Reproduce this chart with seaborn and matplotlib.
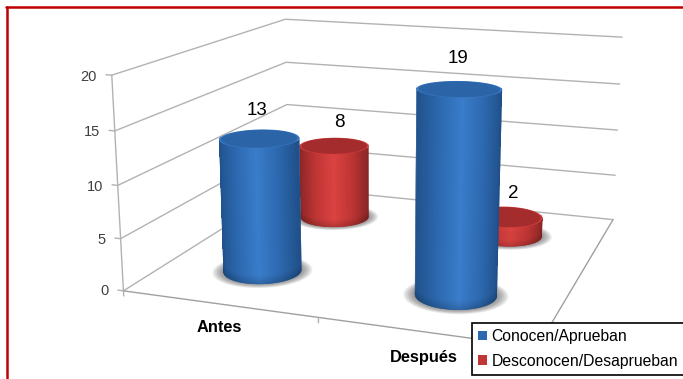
import numpy as np
import pandas as pd
import seaborn as sns
import matplotlib
matplotlib.use("Agg")
import matplotlib.pyplot as plt
from matplotlib.patches import Patch
from matplotlib.lines import Line2D
from mpl_toolkits.mplot3d import proj3d
from mpl_toolkits.mplot3d.art3d import Poly3DCollection

# ---- data -------------------------------------------------------------
categorias = ["Antes", "Después"]
conocen = [13, 19]
desconocen = [8, 2]
series_names = ["Conocen/Aprueban", "Desconocen/Desaprueban"]
z_ticks = [0, 5, 10, 15, 20]

df = pd.DataFrame({"categoria": categorias, series_names[0]: conocen, series_names[1]: desconocen})
long = df.melt(id_vars="categoria", var_name="serie", value_name="valor")

W, H = 683, 379
sns.set_theme(style="white")
plt.rcParams["font.family"] = ["Liberation Sans", "DejaVu Sans"]

# camera (elevation, azimuth, roll, focal length, box aspect) and placement
ELEV, AZIM, ROLL, FOCAL = 14.3049, -70.6767, -0.1358, 0.4045
BOX = (1.9251, 1.8543, 1.0)
SCALE, TX, TY = 3054.0526, 389.8246, 223.7129

fig = plt.figure(figsize=(W / 100, H / 100), dpi=100, facecolor="white")
L = SCALE * 0.185
left = TX - SCALE * 0.095
bottom = TY - SCALE * 0.095
ax = fig.add_axes([left / W, bottom / H, L / W, L / H], projection="3d")
ax.set_xlim(0, 2)
ax.set_ylim(0, 1)
ax.set_zlim(0, 20)
ax.view_init(ELEV, AZIM, ROLL)
ax.set_proj_type("persp", focal_length=FOCAL)
ax.set_box_aspect(BOX)
ax.set_axis_off()
ax.patch.set_alpha(0)
ax.computed_zorder = False
PROJ = ax.get_proj()


def label3d(x, y, z, s, **kw):
    """Text anchored at a 3D data point, projected through the axes' own camera."""
    x2, y2, _ = proj3d.proj_transform(x, y, z, PROJ)
    return ax.text2D(x2, y2, s, transform=ax.transData, clip_on=False, **kw)


# ---- walls, grid and axes ---------------------------------------------
GRID = "#b2b2b2"
for z in z_ticks:
    ax.plot([0, 0, 2], [0, 1, 1], [z, z, z], color=GRID, lw=1.0, zorder=1)
    ax.plot([-0.03, 0], [0, 0], [z, z], color=GRID, lw=1.0, zorder=1)
    label3d(-0.08, 0, z - 0.25, str(z), ha="right", va="center", fontsize=10.5, color="#404040", zorder=20)
ax.plot([0, 0], [0, 0], [0, 20], color=GRID, lw=1.0, zorder=1)
ax.plot([0, 2, 2], [0, 0, 1], [0, 0, 0], color="#a0a0a0", lw=1.0, zorder=1)
for xt in [0, 1, 2]:
    ax.plot([xt, xt], [0, 0], [0, -0.5], color=GRID, lw=1.0, zorder=1)
for i, c in enumerate(categorias):
    label3d(i + 0.5, 0, -2.3, c, ha="center", va="center", fontsize=11.8, fontweight="bold",
            color="black", zorder=20)

# ---- cylinders --------------------------------------------------------
RX = 0.193
RY = RX * 0.5 * BOX[0] / BOX[1]
palettes = {
    series_names[0]: dict(side=["#21528c", "#2d69b0", "#3a7dca", "#2d69b0", "#204f88"], top="#2b65a8", rim="#3a78c4"),
    series_names[1]: dict(side=["#8b2727", "#c03535", "#da4341", "#c03535", "#882626"], top="#a42c2c", rim="#cf3d3d"),
}
depth = {series_names[0]: 0.25, series_names[1]: 0.75}
zbase = {series_names[1]: 3, series_names[0]: 6}
label_dx = {series_names[0]: -0.008, series_names[1]: 0.035}
label_dz = {series_names[0]: 2.65, series_names[1]: 2.6}
az = np.radians(AZIM)
phi = az + np.pi / 2
th = np.linspace(0, 2 * np.pi, 145)
inner = np.linspace(az - 1.3, az + 1.3, 121)
outer = np.linspace(az - 1.75, az + 1.75, 81)


def disc(xc, yc, z, k, color, zorder):
    verts = [list(zip(xc + k * RX * np.cos(th), yc + k * RY * np.sin(th), np.full_like(th, z)))]
    ax.add_collection3d(Poly3DCollection(verts, facecolor=color, edgecolor="none", linewidth=0, zorder=zorder))


def wall(xc, yc, h, cmap, angles, z0, aa, zorder):
    zz = np.unique(np.r_[np.linspace(z0, min(0.8, h / 3), 5), np.linspace(h - min(0.35, h / 4), h, 3)])
    T, Z = np.meshgrid(angles, zz)
    X = xc + RX * np.cos(T)
    Y = yc + RY * np.sin(T)
    colors = cmap(0.5 * (1 + np.cos(T - phi)))
    colors[..., :3] *= (0.84 + 0.16 * np.clip(Z / 0.8, 0, 1))[..., None]
    ax.plot_surface(X, Y, Z, facecolors=colors, shade=False, rstride=1, cstride=1,
                    linewidth=0, antialiased=aa, zorder=zorder)


for _, row in long.iterrows():
    i = categorias.index(row["categoria"])
    xc, yc, h = i + 0.5, depth[row["serie"]], row["valor"]
    st = palettes[row["serie"]]
    order = zbase[row["serie"]] + 2 * i
    for k in np.linspace(1.28, 1.02, 8):
        disc(xc, yc, 0, k, (0.25, 0.25, 0.25, 0.085), order - 0.5)
    # solid silhouette, then a filling pass, then a smooth pass for clean edges
    cx = np.r_[xc + RX * np.cos(outer), xc + RX * np.cos(outer[::-1])]
    cy = np.r_[yc + RY * np.sin(outer), yc + RY * np.sin(outer[::-1])]
    cz = np.r_[np.zeros_like(outer), np.full_like(outer, h)]
    ax.add_collection3d(Poly3DCollection([list(zip(cx, cy, cz))], facecolor=st["side"][0], edgecolor="none",
                                         linewidth=0, zorder=order - 0.1))
    cmap = sns.blend_palette(st["side"], n_colors=256, as_cmap=True)
    wall(xc, yc, h, cmap, inner, 0.15, False, order)
    wall(xc, yc, h, cmap, outer, 0.0, True, order + 0.1)
    disc(xc, yc, h, 1.0, st["rim"], order + 0.2)
    disc(xc, yc, h, 0.95, st["top"], order + 0.3)
    label3d(xc + label_dx[row["serie"]], yc, h + label_dz[row["serie"]], str(h), ha="center", va="center",
            fontsize=13.5, color="black", zorder=20)

# ---- legend and frame -------------------------------------------------
cols = [palettes[s]["side"][1] for s in series_names]
handles = [Patch(facecolor=c, edgecolor="none") for c in cols]
leg = fig.legend(handles, series_names, loc="upper left", bbox_to_anchor=(472 / W, 1 - 323 / H),
                 borderaxespad=0, frameon=True, fancybox=False, edgecolor="black", framealpha=1,
                 fontsize=11.3, handlelength=0.55, handleheight=0.55, handletextpad=0.3,
                 labelspacing=0.6, borderpad=0.4, labelcolor="black")
leg.get_frame().set_linewidth(1.2)
leg.set_zorder(30)

RED = "#c00000"
fig.add_artist(Line2D([6 / W, 1], [1 - 7 / H, 1 - 7 / H], color=RED, lw=1.8, transform=fig.transFigure))
fig.add_artist(Line2D([7 / W, 7 / W], [0, 1 - 7 / H], color=RED, lw=1.8, transform=fig.transFigure))

fig.savefig("out.png", dpi=100)
